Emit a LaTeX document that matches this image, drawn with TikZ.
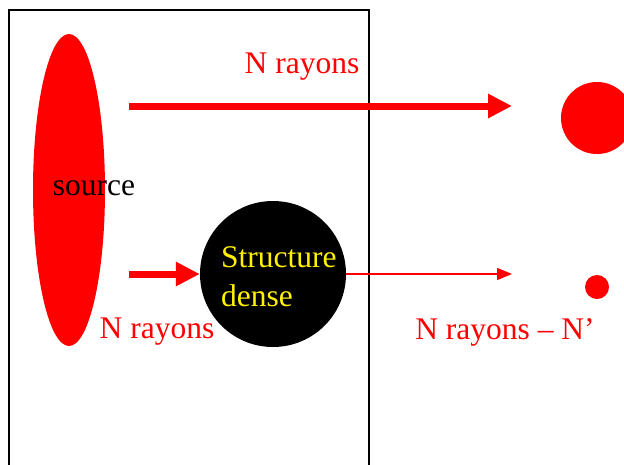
\documentclass[tikz,border=0pt]{standalone}
\usepackage{fontspec}
\setmainfont{Liberation Serif}
\usetikzlibrary{arrows.meta,shapes.geometric}
\begin{document}
\begin{tikzpicture}[x=1pt, y=-1pt, line cap=butt,
    every node/.style={font=\fontsize{31.5}{39}\selectfont},
    lab/.style={text=red, inner sep=0pt},
    thickarr/.style={red, line width=7pt, -{Triangle[length=24pt,width=23pt]}},
    thinarr/.style={red, line width=1.5pt, -{Triangle[length=15pt,width=12pt]}}]
  \useasboundingbox (0,0) rectangle (624,464);
  % Frame (open at the bottom)
  \draw[line width=1.6pt] (9,470) -- (9,10) -- (369,10) -- (369,470);

  % Source
  \node[ellipse, fill=red, minimum width=72pt, minimum height=312pt, inner sep=0pt] (src) at (69,190) {};
  \node[inner sep=0pt] (srctxt) at (94,188) {source};

  % Dense structure
  \node[circle, fill=black, minimum size=146pt, inner sep=0pt] (dense) at (273,274) {};
  \node[text=yellow, align=left, inner sep=0pt, anchor=west] (densetxt) at (221,277) {Structure\\dense};

  % Spots on the right
  \node[circle, fill=red, minimum size=72pt, inner sep=0pt] (bigspot) at (597,118) {};
  \node[circle, fill=red, minimum size=24pt, inner sep=0pt] (smallspot) at (597,287) {};

  % Rays
  \coordinate (topstart) at (129,106);
  \coordinate (topend) at (512,106);
  \coordinate (lowstart) at (129,274);
  \coordinate (lowend) at (512,274);
  \draw[thickarr] (topstart) -- (topend);
  \draw[thickarr] (lowstart) -- (dense.west);
  \draw[thinarr] (dense.east) -- (lowend);

  % Labels
  \node[lab] (ntop) at (302,67) {N rayons};
  \node[lab] (nlow) at (157,332) {N rayons};
  \node[lab] (nout) at (505,332) {N rayons -- N’};
\end{tikzpicture}
\end{document}
